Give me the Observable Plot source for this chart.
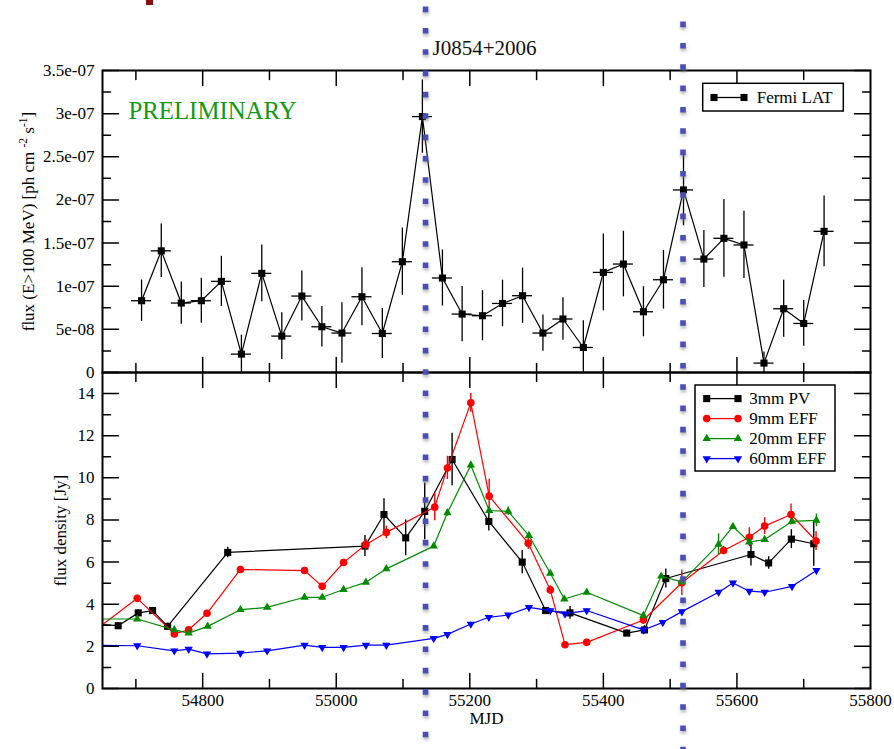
<!DOCTYPE html>
<html><head><meta charset="utf-8">
<script src="https://cdn.jsdelivr.net/npm/d3@7"></script>
<script src="https://cdn.jsdelivr.net/npm/@observablehq/plot@0.6"></script>
<style>
body{margin:0;background:#fff;}
#root{position:relative;width:894px;height:749px;overflow:hidden;background:#fff;font-family:'Liberation Serif','Times New Roman',serif;}
#root > *{position:absolute;}
</style></head><body><div id="root"></div>
<script>
// ---------------- data ----------------
const xDomain = [54650, 55800];
const xMajorTicks = [54800, 55000, 55200, 55400, 55600];
const xMinorTicks = [54700, 54900, 55100, 55300, 55500, 55700];
const xLabelTicks = [54800, 55000, 55200, 55400, 55600, 55800];
const xLabelTexts = ["54800", "55000", "55200", "55400", "55600", "55800"];

const topDomain = [0, 3.5e-7];
const topMajorTicks = [0, 5e-8, 1e-7, 1.5e-7, 2e-7, 2.5e-7, 3e-7, 3.5e-7];
const topTickLabels = ["0", "5e-08", "1e-07", "1.5e-07", "2e-07", "2.5e-07", "3e-07", "3.5e-07"];
const topMinorTicks = [2.5e-8, 7.5e-8, 1.25e-7, 1.75e-7, 2.25e-7, 2.75e-7, 3.25e-7];

const botDomain = [0, 15];
const botMajorTicks = [0, 2, 4, 6, 8, 10, 12, 14];
const botTickLabels = ["0", "2", "4", "6", "8", "10", "12", "14"];
const botMinorTicks = [1, 3, 5, 7, 9, 11, 13];

const markerLines = [55133.75, 55519.25];
const titleText = "J0854+2006";
const stampText = "PRELIMINARY";
const topYLabel = "flux (E>100 MeV) [ph cm -2 s -1]";
const botYLabel = "flux density [Jy]";
const xLabel = "MJD";

// Fermi LAT (30-day bins)
const fermiMJD = [54708.5, 54738, 54768, 54798, 54828, 54858, 54888.5, 54918.5, 54948.5, 54978.5, 55008.5, 55038.5, 55069, 55099, 55129, 55159, 55188.5, 55219, 55249, 55279, 55309.5, 55339.5, 55370, 55400, 55430, 55460, 55490, 55520, 55550.5, 55580.5, 55610.5, 55640.5, 55670, 55700, 55730.5];
const fermiFlux = [8.32e-8, 1.41e-7, 8.05e-8, 8.32e-8, 1.056e-7, 2.13e-8, 1.149e-7, 4.22e-8, 8.86e-8, 5.3e-8, 4.57e-8, 8.78e-8, 4.52e-8, 1.284e-7, 2.966e-7, 1.095e-7, 6.77e-8, 6.58e-8, 8.0e-8, 8.9e-8, 4.57e-8, 6.2e-8, 2.9e-8, 1.16e-7, 1.257e-7, 7.04e-8, 1.075e-7, 2.116e-7, 1.315e-7, 1.555e-7, 1.478e-7, 1.09e-8, 7.39e-8, 5.68e-8, 1.636e-7];
const fermiErr = [2.4e-8, 3.1e-8, 2.45e-8, 2.6e-8, 2.9e-8, 2.2e-8, 3.3e-8, 2.7e-8, 2.9e-8, 2.35e-8, 3.5e-8, 3.35e-8, 2.9e-8, 3.9e-8, 4.25e-8, 3.25e-8, 3.2e-8, 2.9e-8, 2.7e-8, 3.2e-8, 2.1e-8, 2.45e-8, 3.1e-8, 4.45e-8, 3.8e-8, 2.9e-8, 3.4e-8, 4.15e-8, 3.3e-8, 4.5e-8, 3.9e-8, 1.3e-8, 3.3e-8, 2.65e-8, 4.1e-8];
const fermiHalfBin = 15;

// 3mm PV
const pvMJD = [54640, 54673.5, 54703.5, 54725, 54747.5, 54837.5, 55043, 55071.5, 55104, 55132.5, 55173.5, 55228.5, 55278.5, 55313.5, 55350, 55435, 55461.5, 55493.5, 55621, 55647.5, 55681.5, 55715];
const pvFlux = [3.05, 2.98, 3.59, 3.70, 2.95, 6.46, 6.76, 8.26, 7.15, 8.41, 10.87, 7.93, 6.0, 3.70, 3.59, 2.63, 2.78, 5.22, 6.36, 5.96, 7.09, 6.87];
const pvErr = [0.15, 0.15, 0.15, 0.15, 0.15, 0.25, 0.5, 0.75, 0.85, 1.35, 1.25, 0.45, 0.55, 0.15, 0.3, 0.15, 0.2, 0.45, 0.55, 0.3, 0.45, 1.07];

// 9mm EFF
const e9MJD = [54640, 54702, 54757.5, 54779, 54806.5, 54856.5, 54952.5, 54979, 55011, 55044.5, 55075, 55147.5, 55166.5, 55201.5, 55229, 55287.5, 55320.5, 55342.5, 55375, 55460, 55517.5, 55580, 55618.5, 55641.5, 55681, 55718.5];
const e9Flux = [2.79, 4.28, 2.59, 2.79, 3.57, 5.65, 5.60, 4.85, 5.98, 6.84, 7.41, 8.61, 10.47, 13.56, 9.13, 6.9, 4.68, 2.08, 2.19, 3.25, 5.02, 6.55, 7.18, 7.71, 8.26, 7.0];
const e9Err = [0.15, 0.15, 0.15, 0.15, 0.15, 0.15, 0.15, 0.15, 0.15, 0.25, 0.3, 0.65, 0.55, 0.45, 0.8, 0.3, 0.2, 0.15, 0.15, 0.2, 0.6, 0.2, 0.45, 0.4, 0.5, 0.45];

// 20mm EFF
const e20MJD = [54640, 54702, 54757.5, 54779, 54807.5, 54856.5, 54896.5, 54952.5, 54979, 55011, 55044.5, 55075, 55146, 55166.5, 55201.5, 55229, 55257.5, 55288.5, 55320.5, 55341.5, 55375, 55460, 55486.5, 55517.5, 55572.5, 55594, 55618.5, 55641.5, 55682.5, 55719];
const e20Flux = [3.3, 3.30, 2.78, 2.63, 2.95, 3.74, 3.85, 4.33, 4.33, 4.70, 5.04, 5.68, 6.76, 8.34, 10.6, 8.45, 8.41, 7.26, 5.47, 4.25, 4.57, 3.46, 5.33, 5.06, 6.84, 7.69, 6.95, 7.07, 7.93, 7.98];
const e20Err = [0.1, 0.1, 0.1, 0.1, 0.1, 0.1, 0.1, 0.1, 0.1, 0.1, 0.1, 0.1, 0.1, 0.15, 0.15, 0.2, 0.2, 0.1, 0.1, 0.1, 0.1, 0.1, 0.1, 0.15, 0.5, 0.1, 0.15, 0.1, 0.15, 0.3];

// 60mm EFF
const e60MJD = [54640, 54702, 54757.5, 54779, 54806.5, 54856.5, 54896.5, 54952.5, 54979, 55011, 55044.5, 55075, 55146, 55166.5, 55201.5, 55228.5, 55257.5, 55288.5, 55320.5, 55342.5, 55375, 55460, 55489, 55517.5, 55572.5, 55594, 55618.5, 55641.5, 55682.5, 55719];
const e60Flux = [2.05, 2.03, 1.79, 1.87, 1.64, 1.68, 1.79, 2.06, 1.95, 1.95, 2.06, 2.06, 2.38, 2.57, 3.06, 3.38, 3.49, 3.85, 3.70, 3.54, 3.70, 2.78, 3.14, 3.65, 4.57, 5.01, 4.62, 4.57, 4.85, 5.6];
const e60Err = e60MJD.map(() => 0.08);

const seriesNames = ["3mm PV", "9mm EFF", "20mm EFF", "60mm EFF"];
const seriesColors = ["#000000", "#ff0000", "#008a00", "#0000ff"];
const fermiName = "Fermi LAT";

// ---------------- helpers ----------------
const rows = (m, v, e) => m.map((d, i) => ({mjd: d, v: v[i], e: e[i]}));
const fermi = rows(fermiMJD, fermiFlux, fermiErr);
const radio = [rows(pvMJD, pvFlux, pvErr), rows(e9MJD, e9Flux, e9Err), rows(e20MJD, e20Flux, e20Err), rows(e60MJD, e60Flux, e60Err)];

const triDown = {draw(ctx, size) {
  const y = -Math.sqrt(size / (Math.sqrt(3) * 3));
  ctx.moveTo(0, -y * 2); ctx.lineTo(-Math.sqrt(3) * y, y); ctx.lineTo(Math.sqrt(3) * y, y); ctx.closePath();
}};
const symbols = ["square", "circle", "triangle", triDown];
const radii = [4, 3.8, 3.1, 3.1];

const tickShape = {draw(ctx, l) { ctx.moveTo(0, 0); ctx.lineTo(0, -l); }};
const tk = (values, ch, anchor, len) => Plot.vector(values, {
  [ch]: d => d, frameAnchor: anchor, length: len,
  rotate: {bottom: 0, top: 180, left: 90, right: -90}[anchor],
  anchor: "start", shape: tickShape, stroke: "black", strokeWidth: 1.5
});
const frameTicks = (yMajor, yMinor) => [
  tk(xMajorTicks, "x", "bottom", 15), tk(xMinorTicks, "x", "bottom", 9),
  tk(xMajorTicks, "x", "top", 15), tk(xMinorTicks, "x", "top", 9),
  tk(yMajor, "y", "left", 16), tk(yMinor, "y", "left", 8),
  tk(yMajor, "y", "right", 16), tk(yMinor, "y", "right", 8)
];
const baseStyle = {fontFamily: "'Liberation Serif','Times New Roman',serif", fontSize: "17px", overflow: "visible", background: "transparent", color: "black"};
const topLabelMap = new Map(topMajorTicks.map((d, i) => [d, topTickLabels[i]]));
const botLabelMap = new Map(botMajorTicks.map((d, i) => [d, botTickLabels[i]]));
const xLabelMap = new Map(xLabelTicks.map((d, i) => [d, xLabelTexts[i]]));

const root = document.getElementById("root");

// ---------------- top panel ----------------
const topPlot = Plot.plot({
  width: 894, height: 372, marginTop: 70, marginBottom: 0, marginLeft: 102, marginRight: 24,
  x: {domain: xDomain, label: null, axis: null},
  y: {domain: topDomain, label: null},
  style: baseStyle,
  marks: [
    Plot.ruleX(fermi, {x: "mjd", y1: d => d.v - d.e, y2: d => d.v + d.e, stroke: "black", strokeWidth: 1.3, clip: true}),
    Plot.ruleY(fermi, {y: "v", x1: d => d.mjd - fermiHalfBin, x2: d => d.mjd + fermiHalfBin, stroke: "black", strokeWidth: 1.3, clip: true}),
    Plot.line(fermi, {x: "mjd", y: "v", stroke: "black", strokeWidth: 1.2}),
    Plot.dot(fermi, {x: "mjd", y: "v", symbol: "square", r: 4, fill: "black", stroke: "none"}),
    Plot.text([stampText], {frameAnchor: "top-left", dx: 26, dy: 30.5, textAnchor: "start", fill: "#129912", fontSize: 24.8}),
    Plot.text([topYLabel], {frameAnchor: "left", rotate: -90, dx: -74.4, textAnchor: "middle", fill: "black", fontSize: 17}),
    Plot.axisY(topMajorTicks, {anchor: "left", tickSize: 0, tickPadding: 8, tickFormat: d => topLabelMap.get(d), label: null, fill: "black"}),
    ...frameTicks(topMajorTicks, topMinorTicks),
    Plot.frame({stroke: "black", strokeWidth: 2})
  ]
});
topPlot.style.left = "0px"; topPlot.style.top = "0px";
root.appendChild(topPlot);
// superscripts in the y label
{
  const t = [...topPlot.querySelectorAll("text")].find(e => e.textContent === topYLabel);
  if (t) {
    const ns = "http://www.w3.org/2000/svg";
    t.textContent = "";
    const parts = [["flux (E>100 MeV) [ph cm ", 0, null], ["-2", -7, 11.5], [" s", 7, null], ["-1", -7, 11.5], ["]", 7, null]];
    for (const [s, dy, fs] of parts) {
      const sp = document.createElementNS(ns, "tspan");
      sp.textContent = s;
      if (dy) sp.setAttribute("dy", dy);
      if (fs) sp.setAttribute("font-size", fs);
      t.appendChild(sp);
    }
  }
}

// ---------------- bottom panel ----------------
const botMarks = [];
radio.forEach((data, k) => {
  botMarks.push(Plot.ruleX(data, {x: "mjd", y1: d => d.v - d.e, y2: d => d.v + d.e, stroke: seriesColors[k], strokeWidth: 1.4, clip: true}));
  botMarks.push(Plot.line(data, {x: "mjd", y: "v", stroke: seriesColors[k], strokeWidth: 1.2, clip: true}));
  botMarks.push(Plot.dot(data, {x: "mjd", y: "v", symbol: symbols[k], r: radii[k], fill: seriesColors[k], stroke: "none", clip: true}));
});
const botPlot = Plot.plot({
  width: 894, height: 377, marginTop: 0, marginBottom: 61, marginLeft: 102, marginRight: 24,
  x: {domain: xDomain, label: null},
  y: {domain: botDomain, label: null},
  style: baseStyle,
  marks: [
    ...botMarks,
    Plot.text([botYLabel], {frameAnchor: "left", rotate: -90, dx: -42.4, textAnchor: "middle", fill: "black", fontSize: 17}),
    Plot.text([xLabel], {frameAnchor: "bottom", dy: 35, textAnchor: "middle", fill: "black", fontSize: 17}),
    Plot.axisY(botMajorTicks, {anchor: "left", tickSize: 0, tickPadding: 8, tickFormat: d => botLabelMap.get(d), label: null, fill: "black"}),
    Plot.axisX(xLabelTicks, {anchor: "bottom", tickSize: 0, tickPadding: 5, tickFormat: d => xLabelMap.get(d), label: null, fill: "black"}),
    ...frameTicks(botMajorTicks, botMinorTicks),
    Plot.frame({stroke: "black", strokeWidth: 2})
  ]
});
botPlot.style.left = "0px"; botPlot.style.top = "372px";
root.appendChild(botPlot);

// ---------------- dotted marker lines (overlay) ----------------
const overlay = Plot.plot({
  width: 894, height: 749, marginTop: 0, marginBottom: 0, marginLeft: 102, marginRight: 24,
  x: {domain: xDomain, axis: null},
  style: {background: "transparent", overflow: "visible"},
  marks: [
    Plot.ruleX([markerLines[0]], {stroke: "#4a50b4", strokeWidth: 5.6, strokeDasharray: "5.6,15.73", strokeDashoffset: 20.78, insetTop: 6}),
    Plot.ruleX([markerLines[1]], {stroke: "#4a50b4", strokeWidth: 5.6, strokeDasharray: "5.6,15.73", strokeDashoffset: 5.73, insetTop: 6})
  ]
});
overlay.style.left = "0px"; overlay.style.top = "0px"; overlay.style.pointerEvents = "none";
{
  const ns = "http://www.w3.org/2000/svg";
  const defs = document.createElementNS(ns, "defs");
  defs.innerHTML = '<filter id="dotshadow" filterUnits="userSpaceOnUse" x="0" y="0" width="894" height="749"><feDropShadow dx="0.5" dy="2.5" stdDeviation="1.6" flood-color="#777" flood-opacity="0.55"/></filter>';
  overlay.insertBefore(defs, overlay.firstChild);
  overlay.querySelectorAll('g[aria-label="rule"]').forEach(g => g.setAttribute("filter", "url(#dotshadow)"));
}
root.appendChild(overlay);

// ---------------- legends ----------------
function makeLegend(items, box, sx1, sx2, tx, y0, step) {
  const svg = d3.create("svg").attr("width", 894).attr("height", 749)
    .style("left", "0px").style("top", "0px").style("overflow", "visible")
    .style("font-family", "'Liberation Serif','Times New Roman',serif").style("font-size", "17px");
  svg.append("rect").attr("x", box[0]).attr("y", box[1]).attr("width", box[2]).attr("height", box[3])
    .attr("fill", "white").attr("stroke", "black").attr("stroke-width", 1.5);
  items.forEach((it, i) => {
    const y = y0 + i * step;
    svg.append("line").attr("x1", sx1).attr("x2", sx2).attr("y1", y).attr("y2", y).attr("stroke", it.color).attr("stroke-width", 1.3);
    const sym = typeof it.symbol === "string" ? {square: d3.symbolSquare, circle: d3.symbolCircle, triangle: d3.symbolTriangle}[it.symbol] : it.symbol;
    const path = d3.symbol(sym, Math.PI * it.r * it.r)();
    for (const x of [sx1, sx2]) svg.append("path").attr("d", path).attr("transform", `translate(${x},${y})`).attr("fill", it.color);
    svg.append("text").attr("x", tx).attr("y", y).attr("dy", "0.33em").attr("fill", "black").text(it.name);
  });
  return svg.node();
}
root.appendChild(makeLegend([{name: fermiName, color: "black", symbol: "square", r: 4}], [702.7, 83.3, 140.6, 27.7], 714, 744, 756.7, 97.5, 20));
root.appendChild(makeLegend(seriesNames.map((n, k) => ({name: n, color: seriesColors[k], symbol: symbols[k], r: radii[k]})), [695, 385, 140, 86], 706.7, 738, 749.3, 398.6, 20));

// ---------------- title and slide artefact ----------------
const title = document.createElement("div");
title.textContent = titleText;
title.style.cssText = "left:432.5px;top:37.5px;font-size:21px;line-height:1;color:#111;white-space:nowrap;";
root.appendChild(title);
const artefact = document.createElement("div");
artefact.style.cssText = "left:146px;top:0px;width:6.5px;height:4.5px;background:#8c0f0f;";
root.appendChild(artefact);
</script></body></html>
